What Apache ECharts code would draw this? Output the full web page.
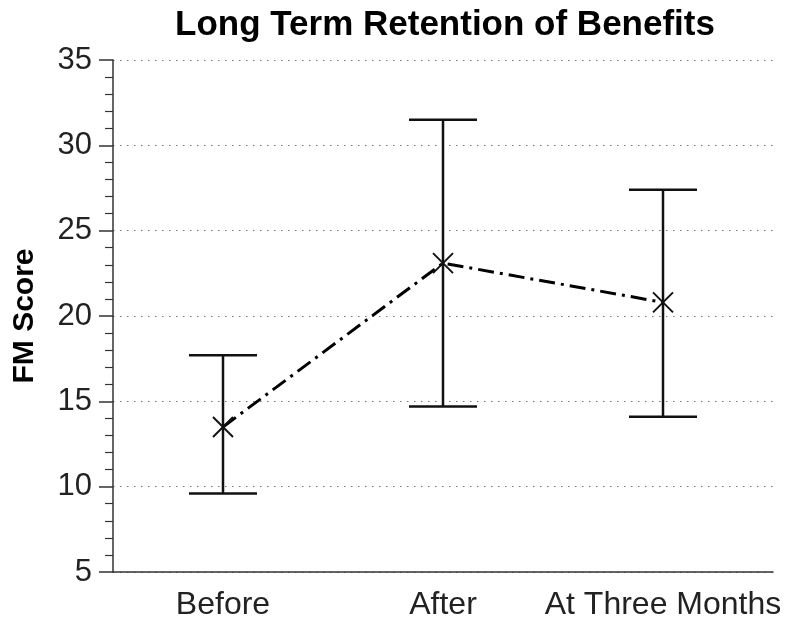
<!DOCTYPE html>
<html><head><meta charset="utf-8">
<script src="https://cdn.jsdelivr.net/npm/echarts@6/dist/echarts.min.js"></script>
<style>html,body{margin:0;padding:0;background:#fff}#c{width:786px;height:625px}</style>
</head><body><div id="c"></div>
<script>
const categories = ['Before', 'After', 'At Three Months'];
const means = [13.5, 23.1, 20.8];
const upper = [17.7, 31.5, 27.4];
const lower = [9.6, 14.7, 14.1];
const yTicks = [5, 10, 15, 20, 25, 30, 35];

const chart = echarts.init(document.getElementById('c'), null, {renderer: 'canvas'});
const font = '"Liberation Sans", Arial, sans-serif';
const errData = categories.map((c, i) => [i, lower[i], upper[i], means[i]]);

chart.setOption({
  animation: false,
  backgroundColor: '#fff',
  title: {
    text: 'Long Term Retention of Benefits',
    left: 440, top: 3, textAlign: 'center',
    textStyle: {fontFamily: font, fontSize: 35, fontWeight: 'bold', color: '#000'}
  },
  grid: {left: 113, right: 13, top: 60, bottom: 53, containLabel: false},
  xAxis: {
    type: 'category', data: categories, boundaryGap: true,
    axisLine: {lineStyle: {color: '#333', width: 1.5}},
    axisTick: {alignWithLabel: true, length: 13, lineStyle: {color: '#333', width: 1.5}},
    axisLabel: {interval: 0, fontFamily: font, fontSize: 32, color: '#222', margin: 17},
    splitLine: {show: false}
  },
  yAxis: {
    type: 'value', min: yTicks[0], max: yTicks[yTicks.length - 1], interval: 5,
    name: 'FM Score', nameLocation: 'middle', nameGap: 73, nameRotate: 90,
    nameTextStyle: {fontFamily: font, fontSize: 30, fontWeight: 'bold', color: '#000'},
    axisLine: {show: true, lineStyle: {color: '#333', width: 1.5}},
    axisTick: {show: true, length: 14, lineStyle: {color: '#333', width: 1.5}},
    minorTick: {show: true, splitNumber: 5, length: 8, lineStyle: {color: '#333', width: 1.2}},
    axisLabel: {fontFamily: font, fontSize: 31, color: '#222', margin: 21},
    splitLine: {show: true, lineStyle: {color: '#777', width: 1.2, type: [1.5, 5.5]}}
  },
  series: [
    {
      type: 'line', data: means, symbol: 'none', z: 3,
      lineStyle: {color: '#000', width: 3, type: [16, 6, 3, 6]}
    },
    {
      type: 'custom', data: errData, z: 4,
      encode: {x: 0, y: [1, 2]},
      renderItem: function (params, api) {
        const lo = api.coord([api.value(0), api.value(1)]);
        const hi = api.coord([api.value(0), api.value(2)]);
        const m = api.coord([api.value(0), api.value(3)]);
        const cap = 34, xs = 10;
        const st = {stroke: '#111', lineWidth: 2.5};
        return {
          type: 'group',
          children: [
            {type: 'line', shape: {x1: hi[0], y1: hi[1], x2: lo[0], y2: lo[1]}, style: st},
            {type: 'line', shape: {x1: hi[0] - cap, y1: hi[1], x2: hi[0] + cap, y2: hi[1]}, style: st},
            {type: 'line', shape: {x1: lo[0] - cap, y1: lo[1], x2: lo[0] + cap, y2: lo[1]}, style: st},
            {type: 'line', shape: {x1: m[0] - xs, y1: m[1] - xs, x2: m[0] + xs, y2: m[1] + xs}, style: {stroke: '#111', lineWidth: 2}},
            {type: 'line', shape: {x1: m[0] - xs, y1: m[1] + xs, x2: m[0] + xs, y2: m[1] - xs}, style: {stroke: '#111', lineWidth: 2}}
          ]
        };
      }
    }
  ]
});
</script></body></html>
